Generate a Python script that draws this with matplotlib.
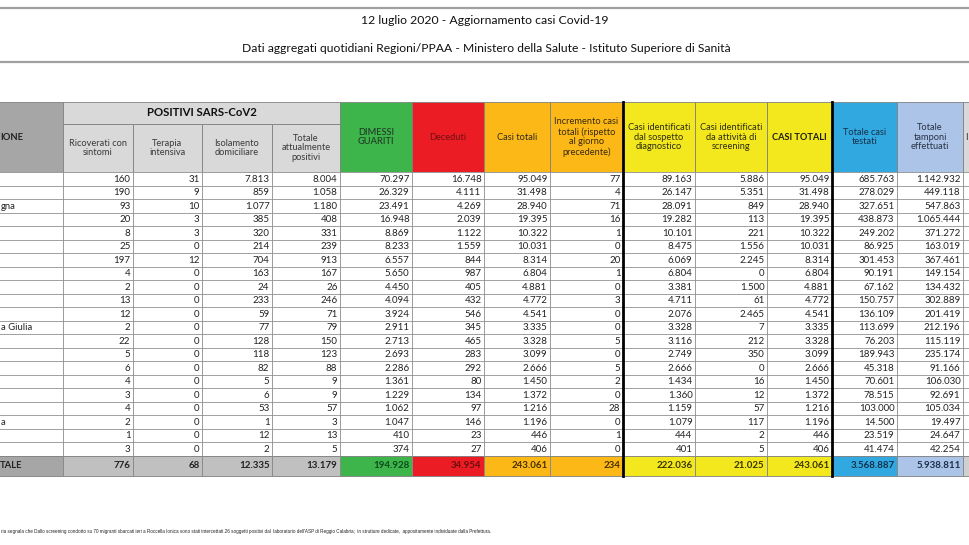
import matplotlib
matplotlib.use("Agg")
import matplotlib.pyplot as plt
from matplotlib.patches import Rectangle

plt.rcParams['font.family'] = ['Lato', 'DejaVu Sans']

title = "12 luglio 2020 - Aggiornamento casi Covid-19"
subtitle = "Dati aggregati quotidiani Regioni/PPAA - Ministero della Salute - Istituto Superiore di Sanità"
# the reference is cropped on the left: only the visible part of the note is kept
footnote = ("ria segnala che Dallo screening condotto su 70 migranti sbarcati ieri a Roccella Ionica "
            "sono stati intercettati 26 soggetti positivi dal  laboratorio dell'ASP di Reggio Calabria;  "
            "in strutture dedicate,  appositamente individuate dalla Prefettura.")

# visible tails of the region names (left column is cut off in the reference)
regioni = ["", "", "gna", "", "", "", "", "", "", "", "", "a Giulia", "", "", "", "", "", "",
           "a", "", ""]

ricoverati = [160, 190, 93, 20, 8, 25, 197, 4, 2, 13, 12, 2, 22, 5, 6, 4, 3, 4, 2, 1, 3]
terapia = [31, 9, 10, 3, 3, 0, 12, 0, 0, 0, 0, 0, 0, 0, 0, 0, 0, 0, 0, 0, 0]
isolamento = [7813, 859, 1077, 385, 320, 214, 704, 163, 24, 233, 59, 77, 128, 118, 82, 5, 6, 53, 1, 12, 2]
totale_pos = [8004, 1058, 1180, 408, 331, 239, 913, 167, 26, 246, 71, 79, 150, 123, 88, 9, 9, 57, 3, 13, 5]
dimessi = [70297, 26329, 23491, 16948, 8869, 8233, 6557, 5650, 4450, 4094, 3924, 2911, 2713, 2693,
           2286, 1361, 1229, 1062, 1047, 410, 374]
deceduti = [16748, 4111, 4269, 2039, 1122, 1559, 844, 987, 405, 432, 546, 345, 465, 283, 292,
            80, 134, 97, 146, 23, 27]
casi_totali = [95049, 31498, 28940, 19395, 10322, 10031, 8314, 6804, 4881, 4772, 4541, 3335, 3328,
               3099, 2666, 1450, 1372, 1216, 1196, 446, 406]
incremento = [77, 4, 71, 16, 1, 0, 20, 1, 0, 3, 0, 0, 5, 0, 5, 2, 0, 28, 0, 1, 0]
sospetto = [89163, 26147, 28091, 19282, 10101, 8475, 6069, 6804, 3381, 4711, 2076, 3328, 3116,
            2749, 2666, 1434, 1360, 1159, 1079, 444, 401]
screening = [5886, 5351, 849, 113, 221, 1556, 2245, 0, 1500, 61, 2465, 7, 212, 350, 0, 16, 12,
             57, 117, 2, 5]
testati = [685763, 278029, 327651, 438873, 249202, 86925, 301453, 90191, 67162, 150757, 136109,
           113699, 76203, 189943, 45318, 70601, 78515, 103000, 14500, 23519, 41474]
tamponi = [1142932, 449118, 547863, 1065444, 371272, 163019, 367461, 149154, 134432, 302889,
           201419, 212196, 115119, 235174, 91166, 106030, 92691, 105034, 19497, 24647, 42254]
totali = [776, 68, 12335, 13179, 194928, 34954, 243061, 234, 222036, 21025, 243061, 3568887, 5938811]

headers = ["Ricoverati con\nsintomi", "Terapia\nintensiva", "Isolamento\ndomiciliare",
           "Totale\nattualmente\npositivi", "DIMESSI\nGUARITI", "Deceduti", "Casi totali",
           "Incremento casi\ntotali (rispetto\nal giorno\nprecedente)",
           "Casi identificati\ndal sospetto\ndiagnostico", "Casi identificati\nda attività di\nscreening",
           "CASI TOTALI", "Totale casi\ntestati", "Totale\ntamponi\neffettuati", "I"]

columns = [ricoverati, terapia, isolamento, totale_pos, dimessi, deceduti, casi_totali,
           incremento, sospetto, screening, casi_totali, testati, tamponi]

# column edges in pixels
edges = [0, 63, 133, 202, 272, 340, 412, 484, 550, 623, 695, 767, 832, 897, 963, 970]
head_bg = ["#d9d9d9"] * 4 + ["#3db54a", "#ec1c24", "#fbb817", "#fbb817",
                            "#f3e71e", "#f3e71e", "#f3e71e", "#31a9e0", "#abc4e8", "#d9d9d9"]
head_fc = ["#3a3a3a"] * 4 + ["#24402a", "#6e1010", "#2e2a20", "#3a2a10",
                            "#2e2e10", "#2e2e10", "#1e1e10", "#15304a", "#2a3345", "#333333"]
head_fw = ["normal"] * 4 + ["semibold", "normal", "normal", "normal",
                           "normal", "normal", "bold", "normal", "normal", "normal"]
tot_fc = ["#222222"] * 4 + ["#0d4a1c", "#6b0d0d", "#4a3000", "#4a3000",
                           "#3a3500", "#3a3500", "#3a3500", "#12304a", "#1c2f4a"]

fmt = lambda v: f"{v:,}".replace(",", ".")

fig = plt.figure(figsize=(9.7, 5.45), dpi=100)
ax = fig.add_axes([0, 0, 1, 1])
ax.set_xlim(0, 970)
ax.set_ylim(545, 0)
ax.axis("off")

# title block
ax.plot([0, 970], [8, 8], color="#a0a0a0", lw=1.6)
ax.plot([0, 970], [62, 62], color="#a0a0a0", lw=1.6)
ax.text(485, 20, title, ha="center", va="center", fontsize=8.8, color="#111111")
ax.text(486, 48, subtitle, ha="center", va="center", fontsize=8.7, color="#111111")

y_top, y_sub, y_data = 102, 124, 172
row_h = 13.5
n = len(ricoverati)
y_tot = y_data + n * row_h
y_end = y_tot + 20

# header cells
ax.add_patch(Rectangle((-5, y_top), edges[1] + 5, y_data - y_top,
                       fc="#a6a6a6", ec="#808080", lw=0.6))
ax.text(23, (y_top + y_data) / 2, "IONE", ha="right", va="center", fontsize=6.8,
        fontweight="bold", color="#222222")
ax.add_patch(Rectangle((edges[1], y_top), edges[5] - edges[1], y_sub - y_top,
                       fc="#d9d9d9", ec="#808080", lw=0.6))
ax.text((edges[1] + edges[5]) / 2, (y_top + y_sub) / 2, "POSITIVI SARS-CoV2", ha="center",
        va="center", fontsize=8.2, fontweight="bold", color="#111111")
for i, lab in enumerate(headers):
    x0, x1 = edges[i + 1], edges[i + 2]
    y0 = y_sub if i < 4 else y_top
    ax.add_patch(Rectangle((x0, y0), x1 - x0, y_data - y0, fc=head_bg[i], ec="#808080", lw=0.6))
    if lab == "I":
        ax.text(x0 + 2, (y0 + y_data) / 2, lab, ha="left", va="center", fontsize=6.8,
                color=head_fc[i])
        continue
    ax.text((x0 + x1) / 2, (y0 + y_data) / 2, lab, ha="center", va="center",
            multialignment="center", fontsize=6.7, color=head_fc[i], linespacing=1.1,
            fontweight=head_fw[i])

# data rows
for r in range(n):
    y0 = y_data + r * row_h
    yc = y0 + row_h / 2
    ax.add_patch(Rectangle((-5, y0), 980, row_h, fc="white", ec="#8c8c8c", lw=0.5))
    if regioni[r]:
        ax.text(1, yc + 0.5, regioni[r], ha="left", va="center", fontsize=6.8, color="#222222")
    for c, col in enumerate(columns):
        ax.text(edges[c + 2] - 2.5, yc + 0.5, fmt(col[r]), ha="right", va="center",
                fontsize=7, color="#222222")

# totals row
ax.add_patch(Rectangle((-5, y_tot), edges[1] + 5, y_end - y_tot,
                       fc="#a6a6a6", ec="#808080", lw=0.6))
ax.text(22, (y_tot + y_end) / 2, "TALE", ha="right", va="center", fontsize=6.8,
        fontweight="bold", color="#222222")
tot_bg = ["#c0c0c0"] * 4 + head_bg[4:]
for c, v in enumerate(totali):
    x0, x1 = edges[c + 1], edges[c + 2]
    ax.add_patch(Rectangle((x0, y_tot), x1 - x0, y_end - y_tot, fc=tot_bg[c], ec="#808080", lw=0.6))
    ax.text(x1 - 2.5, (y_tot + y_end) / 2 + 0.5, fmt(v), ha="right", va="center", fontsize=7,
            fontweight="bold", color=tot_fc[c])
ax.add_patch(Rectangle((edges[-2], y_tot), 10, y_end - y_tot, fc="#d0d0d0", ec="#808080", lw=0.6))

# vertical separators
for x in edges[1:-1]:
    ax.plot([x, x], [y_data, y_end], color="#8c8c8c", lw=0.6)
for x in (edges[9], edges[12]):
    ax.plot([x, x], [y_top, y_end], color="black", lw=2.0)

ax.text(1, 532, footnote, ha="left", va="center", fontsize=3.3, color="#222222",
        family=["Liberation Sans", "DejaVu Sans"])

fig.savefig("out.png", dpi=100)
